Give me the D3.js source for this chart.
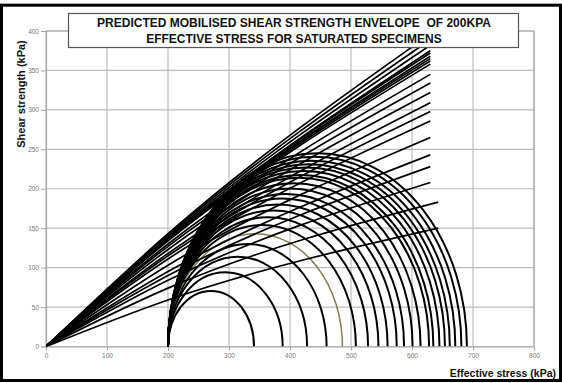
<!DOCTYPE html>
<html>
<head>
<meta charset="utf-8">
<script src="https://cdn.jsdelivr.net/npm/d3@7"></script>
<style>
  html, body { margin: 0; padding: 0; background: #fff; }
  svg { display: block; font-family: "Liberation Sans", Arial, sans-serif; }
</style>
</head>
<body>
<svg id="chart" width="562" height="383"></svg>
<script>
// ---------------- data ----------------
const xTicks = [0, 100, 200, 300, 400, 500, 600, 700, 800];
const yTicks = [0, 50, 100, 150, 200, 250, 300, 350, 400];

// Mohr circles: all start at sigma3 = 200 kPa, right end = sigma1
const sigma3 = 200;
const circleSigma1 = [341, 388, 428, 460, 486, 508, 528, 545, 560, 575, 587,
                      601, 614, 628, 635, 645, 654, 662, 671, 681, 690];
const highlightedSigma1 = 486;

// Mobilised envelopes: from origin, through tau at sigma = 200, to the end point
const envSigmaMid = 200;
const envTauMid  = [59, 74, 84, 90, 95, 103, 111, 115, 118, 123, 127,
                    130, 134, 135, 136, 136, 137, 137, 139, 141, 143];
const envSigmaEnd = [643, 643, 630, 630, 630, 630, 630, 630, 630, 630, 630,
                     630, 630, 630, 630, 630, 630, 630, 630, 630, 630];
const envTauEnd  = [150, 183, 208, 228, 243, 265, 286, 298, 309, 322, 334,
                    345, 358, 362, 365, 368, 372, 375, 382, 389, 396];

const titleLines = ["PREDICTED MOBILISED SHEAR STRENGTH ENVELOPE  OF 200KPA",
                    "EFFECTIVE STRESS FOR SATURATED SPECIMENS"];
const xLabel = "Effective stress (kPa)";
const yLabel = "Shear strength (kPa)";

// ---------------- layout ----------------
const svg = d3.select("#chart");
const x = d3.scaleLinear().domain([0, 800]).range([46, 534]);
const y = d3.scaleLinear().domain([0, 400]).range([346.5, 31]);

svg.append("defs").append("clipPath").attr("id", "plotclip")
  .append("rect")
  .attr("x", x(0)).attr("y", y(400))
  .attr("width", x(800) - x(0)).attr("height", y(0) - y(400));

// grid
const grid = svg.append("g");
grid.selectAll("line.vx").data(xTicks).join("line")
  .attr("x1", d => x(d)).attr("x2", d => x(d))
  .attr("y1", y(0)).attr("y2", y(400))
  .attr("stroke", "#bdbdbd").attr("stroke-width", 1.2);
grid.selectAll("line.hy").data(yTicks).join("line")
  .attr("x1", x(0)).attr("x2", x(800))
  .attr("y1", d => y(d)).attr("y2", d => y(d))
  .attr("stroke", "#bdbdbd").attr("stroke-width", 1.2);

// axes
const yAxis = svg.append("g").attr("transform", `translate(${x(0)},0)`)
  .call(d3.axisLeft(y).tickValues(yTicks).tickSize(5).tickPadding(2));
const xAxis = svg.append("g").attr("transform", `translate(0,${y(0)})`)
  .call(d3.axisBottom(x).tickValues(xTicks).tickSize(4).tickPadding(3));
[xAxis, yAxis].forEach(g => {
  g.select(".domain").attr("stroke", "#a8a8a8").attr("stroke-width", 1.2);
  g.selectAll(".tick line").attr("stroke", "#a8a8a8");
  g.selectAll(".tick text").attr("fill", "#777").style("font-size", "6.5px")
    .style("font-family", "'Liberation Sans', Arial, sans-serif");
});

const plot = svg.append("g").attr("clip-path", "url(#plotclip)");

// Mohr semicircles
plot.selectAll("path.circle").data(circleSigma1).join("path")
  .attr("class", "circle")
  .attr("d", s1 => {
    const rx = x(s1) - x((sigma3 + s1) / 2);
    const ry = y(0) - y((s1 - sigma3) / 2);
    return `M${x(sigma3)},${y(0)} A${rx},${ry} 0 0 1 ${x(s1)},${y(0)}`;
  })
  .attr("fill", "none")
  .attr("stroke", s1 => s1 === highlightedSigma1 ? "#857d52" : "#000")
  .attr("stroke-width", s1 => s1 === highlightedSigma1 ? 1.5 : 2);

// envelopes
const line = d3.line().x(d => x(d[0])).y(d => y(d[1])).curve(d3.curveMonotoneX);
const envData = envTauEnd.map((t, i) => [[0, 0], [envSigmaMid, envTauMid[i]], [envSigmaEnd[i], t]]);
plot.selectAll("path.env").data(envData).join("path")
  .attr("class", "env")
  .attr("d", line)
  .attr("fill", "none")
  .attr("stroke", "#000")
  .attr("stroke-width", 1.7);

// plot frame top/right
svg.append("line").attr("x1", x(0)).attr("x2", x(800)).attr("y1", y(400)).attr("y2", y(400))
  .attr("stroke", "#a8a8a8").attr("stroke-width", 1.2);
svg.append("line").attr("x1", x(800)).attr("x2", x(800)).attr("y1", y(400)).attr("y2", y(0))
  .attr("stroke", "#a8a8a8").attr("stroke-width", 1.2);

// title box
svg.append("rect").attr("x", 68.5).attr("y", 13.5).attr("width", 450).attr("height", 34)
  .attr("fill", "#fff").attr("stroke", "#555").attr("stroke-width", 1.2);
svg.selectAll("text.title").data(titleLines).join("text")
  .attr("class", "title")
  .attr("x", 294).attr("y", (d, i) => 27.3 + i * 15.8)
  .attr("text-anchor", "middle")
  .style("font-size", "12px").style("font-weight", "bold")
  .style("white-space", "pre")
  .attr("fill", "#111")
  .text(d => d);

// axis titles
svg.append("text").attr("x", 556).attr("y", 376.5)
  .attr("text-anchor", "end")
  .style("font-size", "10.5px").style("font-weight", "bold").attr("fill", "#111")
  .text(xLabel);
svg.append("text").attr("transform", "translate(24.5,94) rotate(-90)")
  .attr("text-anchor", "middle")
  .style("font-size", "11px").style("font-weight", "bold").attr("fill", "#111")
  .text(yLabel);

// outer border
svg.append("rect").attr("x", 1.5).attr("y", 5.2).attr("width", 559).attr("height", 375.3)
  .attr("fill", "none").attr("stroke", "#000").attr("stroke-width", 3);
</script>
</body>
</html>
